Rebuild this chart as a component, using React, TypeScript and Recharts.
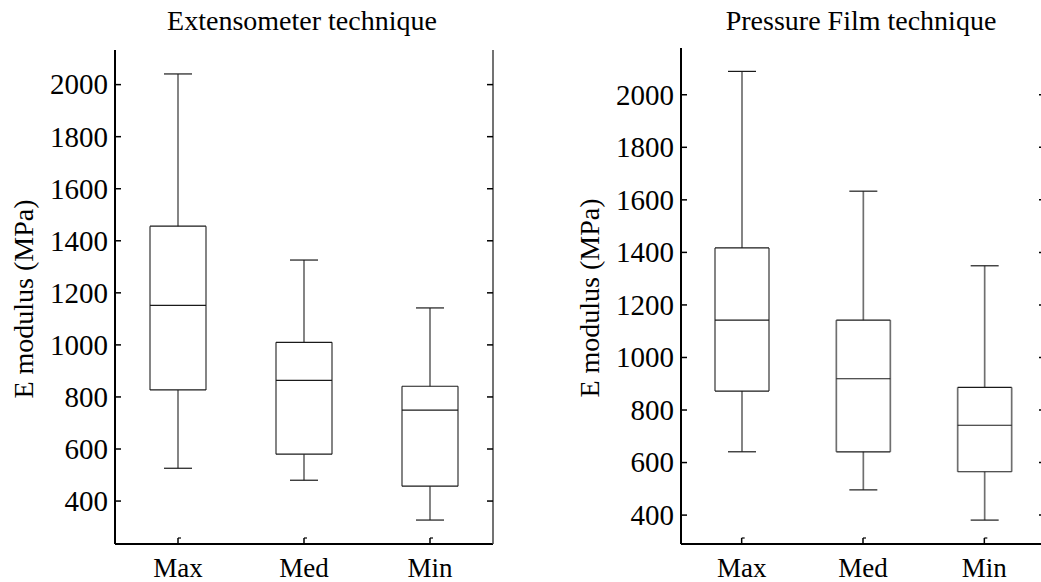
import React from 'react';
import { ComposedChart, Bar, XAxis, YAxis } from 'recharts';

// ---- Data ----
const categories = ['Max', 'Med', 'Min'];

// Extensometer technique
const extMin = [526, 480, 327];
const extQ1 = [827, 580, 457];
const extMedian = [1152, 864, 749];
const extQ3 = [1456, 1010, 841];
const extMax = [2041, 1326, 1142];

// Pressure Film technique
const pfMin = [641, 496, 381];
const pfQ1 = [872, 641, 565];
const pfMedian = [1142, 919, 742];
const pfQ3 = [1417, 1142, 886];
const pfMax = [2089, 1633, 1349];

const yTicks = [400, 600, 800, 1000, 1200, 1400, 1600, 1800, 2000];
const titles = ['Extensometer technique', 'Pressure Film technique'];
const yLabel = 'E modulus (MPa)';

const FONT = "'Liberation Serif', 'Times New Roman', Times, serif";
const TICK_FS = 29;
const XLAB_FS = 27;
const TITLE_FS = 28;
const YLAB_FS = 28;
const TICK_LEN = 6;

const build = (mn: number[], q1: number[], md: number[], q3: number[], mx: number[]) =>
  categories.map((name, i) => ({
    name,
    box: [q1[i], q3[i]],
    min: mn[i],
    q1: q1[i],
    median: md[i],
    q3: q3[i],
    max: mx[i],
  }));

const extData = build(extMin, extQ1, extMedian, extQ3, extMax);
const pfData = build(pfMin, pfQ1, pfMedian, pfQ3, pfMax);

const BoxShape = (props: any) => {
  const { x, y, width, height, payload } = props;
  if (x == null || y == null || !payload) return null;
  const top = Math.min(y, y + height);
  const h = Math.abs(height);
  const pxPerUnit = h / (payload.q3 - payload.q1);
  const toY = (v: number) => top + (payload.q3 - v) * pxPerUnit;
  const cx = x + width / 2;
  const capHalf = 14;
  const yMax = toY(payload.max);
  const yMin = toY(payload.min);
  const yMed = toY(payload.median);
  const bottom = top + h;
  const vStroke = '#6f6f6f';
  const hStroke = '#1a1a1a';
  return (
    <g>
      <line x1={cx} x2={cx} y1={yMax} y2={top} stroke={vStroke} strokeWidth={1.7} />
      <line x1={cx} x2={cx} y1={bottom} y2={yMin} stroke={vStroke} strokeWidth={1.7} />
      <line x1={cx - capHalf} x2={cx + capHalf} y1={yMax} y2={yMax} stroke={hStroke} strokeWidth={1.2} />
      <line x1={cx - capHalf} x2={cx + capHalf} y1={yMin} y2={yMin} stroke={hStroke} strokeWidth={1.2} />
      <line x1={x} x2={x} y1={top} y2={bottom} stroke={vStroke} strokeWidth={1.7} />
      <line x1={x + width} x2={x + width} y1={top} y2={bottom} stroke={vStroke} strokeWidth={1.7} />
      <line x1={x} x2={x + width} y1={top} y2={top} stroke={hStroke} strokeWidth={1.2} />
      <line x1={x} x2={x + width} y1={bottom} y2={bottom} stroke={hStroke} strokeWidth={1.2} />
      <line x1={x} x2={x + width} y1={yMed} y2={yMed} stroke={hStroke} strokeWidth={1.2} />
    </g>
  );
};

const LeftYTick = (props: any) => {
  const { x, y, payload } = props;
  return (
    <g>
      <line x1={x} x2={x + TICK_LEN} y1={y} y2={y} stroke="#000" strokeWidth={1.5} />
      <text
        x={x - 7}
        y={y}
        dy="0.34em"
        textAnchor="end"
        style={{ fontFamily: FONT, fontSize: TICK_FS }}
        fill="#000"
      >
        {payload.value}
      </text>
    </g>
  );
};

const RightYTick = (props: any) => {
  const { x, y } = props;
  return <line x1={x} x2={x - TICK_LEN} y1={y} y2={y} stroke="#000" strokeWidth={1.5} />;
};

const BottomXTick = (props: any) => {
  const { x, y, payload } = props;
  return (
    <g>
      <line x1={x} x2={x} y1={y} y2={y - TICK_LEN} stroke="#000" strokeWidth={1.5} />
      <line x1={x} x2={x + 3} y1={y - TICK_LEN} y2={y - TICK_LEN} stroke="#000" strokeWidth={1.2} />
      <text
        x={x}
        y={y + 33}
        textAnchor="middle"
        style={{ fontFamily: FONT, fontSize: XLAB_FS }}
        fill="#000"
      >
        {payload.value}
      </text>
    </g>
  );
};

const TopXTick = (props: any) => {
  const { x, y } = props;
  return (
    <g>
      <line x1={x} x2={x} y1={y} y2={y + TICK_LEN} stroke="#000" strokeWidth={1.5} />
      <line x1={x} x2={x + 3} y1={y + TICK_LEN} y2={y + TICK_LEN} stroke="#000" strokeWidth={1.2} />
    </g>
  );
};

type PanelProps = {
  data: any[];
  width: number;
  domain: [number, number];
  marginTop: number;
  leftAxisWidth: number;
  rightAxisWidth: number;
  barSize: number;
};

const Panel = ({ data, width, domain, marginTop, leftAxisWidth, rightAxisWidth, barSize }: PanelProps) => (
  <ComposedChart
    width={width}
    height={582}
    data={data}
    margin={{ top: marginTop, right: 0, bottom: 0, left: 0 }}
    style={{ fontFamily: FONT }}
  >
    <XAxis
      dataKey="name"
      xAxisId="bottom"
      orientation="bottom"
      height={38}
      tickSize={0}
      tickMargin={0}
      tickLine={false}
      axisLine={{ stroke: '#000', strokeWidth: 2 }}
      tick={<BottomXTick />}
      interval={0}
    />
    <XAxis
      dataKey="name"
      xAxisId="top"
      orientation="top"
      height={0}
      tickSize={0}
      tickMargin={0}
      tickLine={false}
      axisLine={{ stroke: '#000', strokeWidth: 1.5 }}
      tick={<TopXTick />}
      interval={0}
    />
    <YAxis
      yAxisId="left"
      type="number"
      domain={domain}
      ticks={yTicks}
      allowDataOverflow
      width={leftAxisWidth}
      tickSize={0}
      tickMargin={0}
      tickLine={false}
      axisLine={{ stroke: '#000', strokeWidth: 2 }}
      tick={<LeftYTick />}
      interval={0}
    />
    <YAxis
      yAxisId="right"
      orientation="right"
      type="number"
      domain={domain}
      ticks={yTicks}
      allowDataOverflow
      width={rightAxisWidth}
      tickSize={0}
      tickMargin={0}
      tickLine={false}
      axisLine={{ stroke: '#444', strokeWidth: 1.5 }}
      tick={<RightYTick />}
      interval={0}
    />
    <Bar
      dataKey="box"
      xAxisId="bottom"
      yAxisId="left"
      barSize={barSize}
      shape={<BoxShape />}
      isAnimationActive={false}
    />
  </ComposedChart>
);

export default function App() {
  return (
    <div
      style={{
        position: 'absolute',
        left: 0,
        top: 0,
        width: 1041,
        height: 582,
        overflow: 'hidden',
        background: '#fff',
        fontFamily: FONT,
      }}
    >
      <div style={{ position: 'absolute', left: 0, top: 0 }}>
        <Panel
          data={extData}
          width={520}
          domain={[235, 2133]}
          marginTop={50}
          leftAxisWidth={115}
          rightAxisWidth={27}
          barSize={56}
        />
      </div>
      <div style={{ position: 'absolute', left: 520, top: 0 }}>
        <Panel
          data={pfData}
          width={540}
          domain={[290, 2178]}
          marginTop={48}
          leftAxisWidth={161}
          rightAxisWidth={15}
          barSize={54}
        />
      </div>
      <svg
        width={1041}
        height={582}
        style={{ position: 'absolute', left: 0, top: 0, pointerEvents: 'none' }}
      >
        <text x={302} y={30} textAnchor="middle" style={{ fontFamily: FONT, fontSize: TITLE_FS }} fill="#000">
          {titles[0]}
        </text>
        <text x={861} y={30} textAnchor="middle" style={{ fontFamily: FONT, fontSize: TITLE_FS }} fill="#000">
          {titles[1]}
        </text>
        <text
          x={23}
          y={299}
          transform="rotate(-90 23 299)"
          textAnchor="middle"
          dominantBaseline="central"
          style={{ fontFamily: FONT, fontSize: YLAB_FS }}
          fill="#000"
        >
          {yLabel}
        </text>
        <text
          x={589}
          y={298}
          transform="rotate(-90 589 298)"
          textAnchor="middle"
          dominantBaseline="central"
          style={{ fontFamily: FONT, fontSize: YLAB_FS }}
          fill="#000"
        >
          {yLabel}
        </text>
      </svg>
    </div>
  );
}
